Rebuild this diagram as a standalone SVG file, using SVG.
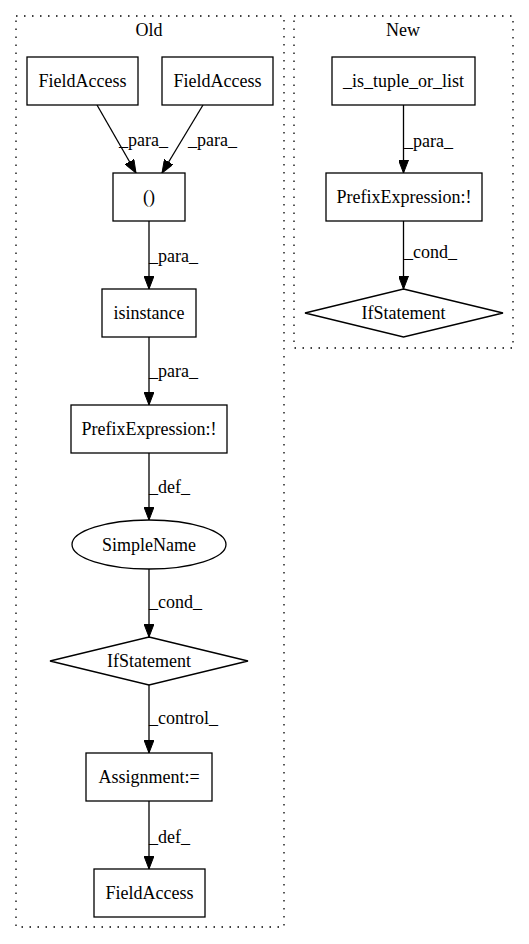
<svg xmlns="http://www.w3.org/2000/svg" width="529" height="944" viewBox="0 0 529 944">
<style>
  text { font-family: 'Liberation Serif', 'Times New Roman', Times, 'DejaVu Serif', serif; font-size: 18px; fill: #000; }
  .c { text-anchor: middle; }
  .node { fill: #fff; stroke: #000; stroke-width: 1.3; }
  .cluster { fill: none; stroke: #000; stroke-width: 1.3; stroke-dasharray: 1.5,6.5; }
  .edge { fill: none; stroke: #000; stroke-width: 1.3; marker-end: url(#arrow); }
</style>
<defs>
  <marker id="arrow" viewBox="0 0 13 10" refX="13" refY="5" markerWidth="13" markerHeight="10" markerUnits="userSpaceOnUse" orient="auto">
    <path d="M0,0 L13,5 L0,10 z" fill="#000" stroke="#000" stroke-width="1"/>
  </marker>
</defs>
<rect width="529" height="944" fill="#fff"/>

<g font-family="Liberation Serif, Times New Roman, serif">
<g id="cluster_old">
  <rect class="cluster" x="16" y="16" width="268" height="911"/>
  <text class="c" x="149" y="36">Old</text>
</g>
<g id="cluster_new">
  <rect class="cluster" x="294" y="16" width="219" height="332"/>
  <text class="c" x="403" y="36">New</text>
</g>

<g id="edges">
  <path class="edge" d="M97,105 L136,173"/>
  <text x="119" y="146">_para_</text>
  <path class="edge" d="M203,105 L162,173"/>
  <text x="188" y="146">_para_</text>
  <path class="edge" d="M149,221 L149,289"/>
  <text x="149" y="262">_para_</text>
  <path class="edge" d="M149,337 L149,405"/>
  <text x="149" y="377">_para_</text>
  <path class="edge" d="M149,453 L149,520"/>
  <text x="149" y="493">_def_</text>
  <path class="edge" d="M149,569 L149,637"/>
  <text x="149" y="608">_cond_</text>
  <path class="edge" d="M149,685 L149,753"/>
  <text x="149" y="724">_control_</text>
  <path class="edge" d="M149,801 L149,869"/>
  <text x="149" y="843">_def_</text>
  <path class="edge" d="M403.5,105 L403.5,173"/>
  <text x="404" y="147">_para_</text>
  <path class="edge" d="M403.5,221 L403.5,289"/>
  <text x="404" y="258">_cond_</text>
</g>

<g id="fa1">
  <rect class="node" x="27" y="57" width="111" height="48"/>
  <text class="c" x="82.5" y="87">FieldAccess</text>
</g>
<g id="fa2">
  <rect class="node" x="162" y="57" width="111" height="48"/>
  <text class="c" x="217.5" y="87">FieldAccess</text>
</g>
<g id="paren">
  <rect class="node" x="113" y="173" width="72" height="48"/>
  <text class="c" x="149" y="203">()</text>
</g>
<g id="isinstance">
  <rect class="node" x="102" y="289" width="94" height="48"/>
  <text class="c" x="149" y="319">isinstance</text>
</g>
<g id="prefix_old">
  <rect class="node" x="71" y="405" width="156" height="48"/>
  <text class="c" x="149" y="435">PrefixExpression:!</text>
</g>
<g id="simplename">
  <ellipse class="node" cx="149" cy="544.5" rx="77" ry="24.5"/>
  <text class="c" x="149" y="551">SimpleName</text>
</g>
<g id="if_old">
  <polygon class="node" points="149,637 248,661 149,685 50,661"/>
  <text class="c" x="149" y="667">IfStatement</text>
</g>
<g id="assignment">
  <rect class="node" x="86" y="753" width="126" height="48"/>
  <text class="c" x="149" y="783">Assignment:=</text>
</g>
<g id="fa3">
  <rect class="node" x="94" y="869" width="111" height="48"/>
  <text class="c" x="149.5" y="899">FieldAccess</text>
</g>

<g id="is_tuple">
  <rect class="node" x="332" y="57" width="143" height="48"/>
  <text class="c" x="403.5" y="87">_is_tuple_or_list</text>
</g>
<g id="prefix_new">
  <rect class="node" x="326" y="173" width="156" height="48"/>
  <text class="c" x="404" y="203">PrefixExpression:!</text>
</g>
<g id="if_new">
  <polygon class="node" points="403.5,289 503,313 403.5,337 305,313"/>
  <text class="c" x="403.5" y="319">IfStatement</text>
</g>
</g>
</svg>
